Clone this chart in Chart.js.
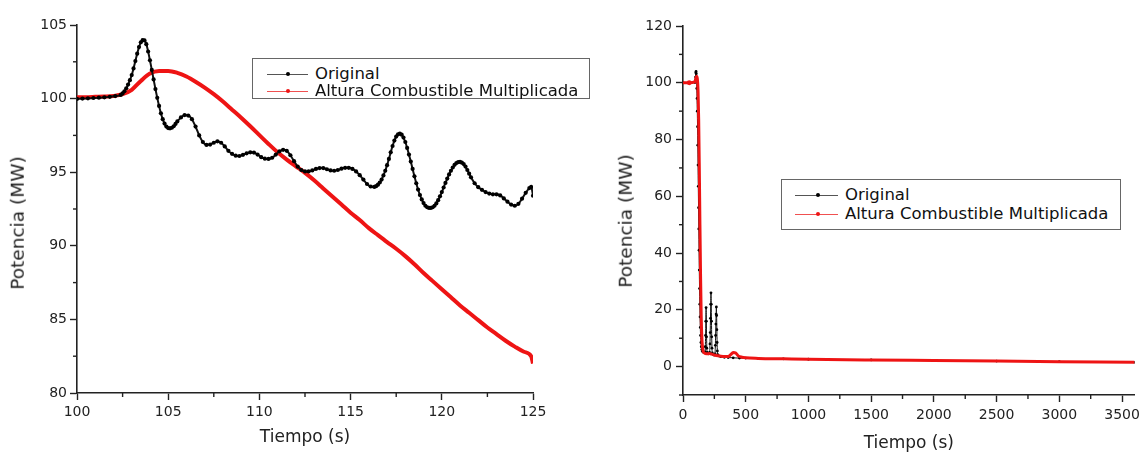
<!DOCTYPE html>
<html><head><meta charset="utf-8">
<script src="https://cdn.jsdelivr.net/npm/chart.js@4.4.1/dist/chart.umd.min.js"></script>
<style>
html,body{margin:0;padding:0;background:#fff;width:1145px;height:455px;overflow:hidden;font-family:"DejaVu Sans",sans-serif;}
canvas{position:absolute;top:0;}
#cL{left:0;}
#cR{left:600px;}
.legend{position:absolute;border:1px solid #666;background:#fff;box-sizing:border-box;font-size:16.5px;color:#111;}
.row{position:relative;}
.sym{position:absolute;top:50%;height:0;border-top:1px solid;}
.dot{position:absolute;width:4px;height:4px;border-radius:50%;top:-2.5px;}
.txt{position:absolute;top:50%;transform:translateY(-50%);white-space:nowrap;line-height:1;}
.ytitle{position:absolute;white-space:nowrap;font-size:18.5px;color:#222;line-height:1;transform:translate(-50%,-50%) rotate(-90deg);}
</style></head><body>
<canvas id="cL" width="600" height="455"></canvas>
<canvas id="cR" width="545" height="455"></canvas>
<div class="legend" id="legL"></div>
<div class="legend" id="legR"></div>
<div class="ytitle" id="ytL" style="left:18px;top:223px"></div>
<div class="ytitle" id="ytR" style="left:626px;top:221px"></div>
<script>
// ---------- DATA ----------
const seriesNames = ["Original", "Altura Combustible Multiplicada"];
const xTitle = "Tiempo (s)";
const yTitle = "Potencia (MW)";

// Left panel (zoom 100-125 s)
const xTicksLeft = [100, 105, 110, 115, 120, 125];
const yTicksLeft = [80, 85, 90, 95, 100, 105];

const origTimeL = [
 100,100.3,100.6,100.9,101.2,101.5,101.8,102.1,102.4,
 102.5,102.6,102.7,102.8,102.9,103.0,103.1,103.2,103.3,103.4,103.5,103.6,103.7,103.8,103.9,104.0,104.1,104.2,104.3,104.4,104.5,104.6,104.7,104.8,104.9,105.0,105.1,105.2,105.3,105.4,105.5,
 105.7,105.9,106.1,106.3,106.5,106.7,106.9,107.1,107.3,107.5,107.7,107.9,108.1,108.3,108.5,108.7,108.9,109.1,109.3,109.5,109.7,109.9,110.1,110.3,110.5,110.7,110.9,111.1,111.3,111.5,111.7,111.9,112.1,112.3,112.5,112.7,112.9,113.1,113.3,113.5,113.7,113.9,114.1,114.3,114.5,114.7,114.9,115.1,115.3,115.5,115.7,115.9,116.1,116.3,
 116.4,116.5,116.6,116.7,116.8,116.9,117.0,117.1,117.2,117.3,117.4,117.5,117.6,117.7,117.8,117.9,118.0,118.1,118.2,118.3,118.4,118.5,118.6,118.7,118.8,118.9,119.0,119.1,119.2,119.3,119.4,119.5,119.6,119.7,119.8,119.9,120.0,120.1,120.2,120.3,120.4,120.5,120.6,120.7,120.8,120.9,121.0,121.1,121.2,121.3,121.4,121.5,121.6,
 121.8,122.0,122.2,122.4,122.6,122.8,123.0,123.2,123.4,123.6,123.8,124.0,124.2,124.4,124.6,124.8,124.9,125.0
];
const origPowerL = [
 99.98,100.0,100.02,100.04,100.06,100.09,100.12,100.17,100.25,
 100.35,100.5,100.7,100.95,101.25,101.6,102.05,102.55,103.05,103.5,103.82,103.97,103.95,103.7,103.2,102.6,101.95,101.3,100.65,100.05,99.5,99.0,98.6,98.3,98.1,98.0,97.98,98.02,98.12,98.28,98.45,
 98.72,98.88,98.85,98.6,98.1,97.5,97.05,96.85,96.88,97.0,97.1,97.0,96.75,96.45,96.25,96.12,96.1,96.18,96.28,96.35,96.33,96.2,96.02,95.92,95.9,95.98,96.2,96.42,96.52,96.45,96.15,95.75,95.38,95.15,95.05,95.05,95.12,95.22,95.28,95.28,95.2,95.12,95.1,95.15,95.24,95.3,95.3,95.22,95.05,94.8,94.5,94.2,94.03,94.0,
 94.05,94.15,94.3,94.5,94.78,95.1,95.48,95.9,96.35,96.78,97.15,97.42,97.57,97.62,97.55,97.35,97.05,96.65,96.2,95.72,95.22,94.72,94.25,93.82,93.45,93.15,92.9,92.72,92.62,92.57,92.57,92.62,92.72,92.88,93.1,93.36,93.65,93.96,94.27,94.57,94.85,95.1,95.32,95.5,95.62,95.69,95.7,95.65,95.55,95.38,95.15,94.9,94.65,
 94.25,93.98,93.8,93.65,93.55,93.5,93.5,93.42,93.22,93.0,92.8,92.72,92.85,93.2,93.6,93.92,94.0,93.4
];

const alturaTimeL = [100,100.5,101,101.5,102,102.5,103,103.5,104,104.5,105,105.5,106,106.5,107,107.5,108,108.5,109,109.5,110,110.5,111,111.5,112,112.5,113,113.5,114,114.5,115,115.5,116,116.5,117,117.5,118,118.5,119,119.5,120,120.5,121,121.5,122,122.5,123,123.5,124,124.5,124.9,125];
const alturaPowerL = [100.1,100.1,100.12,100.14,100.18,100.3,100.6,101.2,101.7,101.88,101.88,101.75,101.5,101.15,100.75,100.3,99.8,99.25,98.7,98.12,97.52,96.92,96.35,95.85,95.4,94.95,94.45,93.9,93.35,92.8,92.25,91.75,91.2,90.72,90.25,89.8,89.3,88.75,88.15,87.6,87.05,86.5,85.95,85.45,84.95,84.45,84.0,83.55,83.15,82.8,82.5,82.0];

// Right panel (0-3600 s)
const xTicksRight = [0, 500, 1000, 1500, 2000, 2500, 3000, 3500];
const yTicksRight = [0, 20, 40, 60, 80, 100, 120];

const origTimeR = [0,50,95,98,100,102,104,106,108,110,112,114,116,118,120,122,124,126,128,130,132,134,136,138,140,143,146,150,155,162,170,176,178,180,182,184,186,188,190,193,198,205,212,215,217,219,221,223,225,227,229,231,234,240,248,255,258,260,262,264,266,268,270,272,274,277,285,300,330,360,400,450,500,600,800,1000,1500,2000,2500,3000,3600];
const origPowerR = [100,100,100.1,100.8,102,103.5,104,103.2,101,98,94.5,90,84.5,78,71,63.5,56,48.5,41,34,27.5,22,17.5,13.8,11,8.5,7,6,5.4,5.1,4.9,5.2,7,11,16,20.8,16,10.5,6.5,5.0,4.6,4.5,5,8,12,17,22,26,22,16,10.5,6.5,4.8,4.3,4.1,4.5,7.5,11,15,18.5,21,18,13,8.5,5.5,4.2,3.8,3.5,3.3,3.2,3.1,3.0,3.0,2.9,2.75,2.6,2.35,2.15,1.95,1.75,1.5];

const alturaTimeR = [0,50,95,102,108,114,120,125,130,135,140,145,150,155,160,170,190,210,230,250,280,320,360,380,400,420,440,470,500,600,800,1000,1500,2000,2500,3000,3600];
const alturaPowerR = [100,100,100.3,101.5,102.3,101.5,97,87,70,50,32,18,10.5,7,5.5,4.8,4.5,4.6,4.4,4.1,3.8,3.6,3.6,4.2,5.0,4.8,3.8,3.3,3.1,2.9,2.75,2.6,2.35,2.15,1.95,1.75,1.5];

// ---------- CHARTS ----------
Chart.defaults.font.family = '"DejaVu Sans", sans-serif';
Chart.defaults.color = '#222';

const AXIS = '#222';
const RED = '#ee1414';

const toXY = (ts, vs) => ts.map((t, i) => ({x: t, y: vs[i]}));

const minorTicks = {
  id: 'minorTicks',
  afterDraw(chart) {
    const ctx = chart.ctx;
    ctx.save();
    ctx.strokeStyle = AXIS;
    ctx.lineWidth = 1.4;
    for (const id of ['x', 'y']) {
      const s = chart.scales[id];
      const vals = s.ticks.map(t => t.value);
      const step = vals[1] - vals[0];
      for (let v = vals[0] - step / 2; v <= s.max + 1e-9; v += step) {
        if (v < s.min - 1e-9) continue;
        const p = s.getPixelForValue(v);
        ctx.beginPath();
        if (id === 'x') { ctx.moveTo(p, s.top); ctx.lineTo(p, s.top + 4); }
        else { ctx.moveTo(s.right, p); ctx.lineTo(s.right - 4, p); }
        ctx.stroke();
      }
    }
    ctx.restore();
  }
};

function axis(o) {
  return {
    type: 'linear', min: o.min, max: o.max, bounds: 'data',
    border: {display: true, color: AXIS, width: 1.6},
    grid: {drawOnChartArea: false, drawTicks: true, tickLength: 7, tickColor: AXIS, tickWidth: 1.4},
    ticks: {font: {size: 14}, color: AXIS, padding: o.pad, maxRotation: 0, autoSkip: false,
            callback: v => String(v)},
    afterBuildTicks: s => { s.ticks = o.ticks.map(v => ({value: v})); },
    afterFit: s => { if (o.w) s.width = o.w; if (o.h) s.height = o.h; },
    title: {display: !!o.title, text: o.title || '', font: {size: o.tsize || 17}, color: AXIS, padding: o.tpad}
  };
}

function makeChart(id, o) {
  return new Chart(document.getElementById(id), {
    type: 'line',
    data: {datasets: o.datasets},
    options: {
      responsive: false, animation: false, devicePixelRatio: 1,
      layout: {padding: o.padding},
      plugins: {legend: {display: false}, tooltip: {enabled: false}},
      events: [],
      scales: {x: o.x, y: o.y}
    },
    plugins: [minorTicks]
  });
}

makeChart('cL', {
  padding: {top: 25, right: 67, bottom: 0, left: 0},
  datasets: [
    {label: seriesNames[0], data: toXY(origTimeL, origPowerL), order: 0,
     borderColor: '#111', borderWidth: 2, pointRadius: 2.1, pointBorderWidth: 0,
     pointBackgroundColor: '#000', cubicInterpolationMode: 'monotone'},
    {label: seriesNames[1], data: toXY(alturaTimeL, alturaPowerL), order: 1,
     borderColor: RED, borderWidth: 4, pointRadius: 0, cubicInterpolationMode: 'monotone'}
  ],
  x: axis({min: 100, max: 125, ticks: xTicksLeft, pad: 4, h: 62, title: xTitle, tsize: 17, tpad: {top: 4, bottom: 7}}),
  y: axis({min: 80, max: 105, ticks: yTicksLeft, pad: 3, w: 77})
});

makeChart('cR', {
  padding: {top: 26, right: 5, bottom: 0, left: 0},
  datasets: [
    {label: seriesNames[0], data: toXY(origTimeR, origPowerR), order: 1,
     borderColor: '#111', borderWidth: 1, pointRadius: 1.4, pointBorderWidth: 0,
     pointBackgroundColor: '#000', cubicInterpolationMode: 'monotone'},
    {label: seriesNames[1], data: toXY(alturaTimeR, alturaPowerR), order: 0,
     borderColor: RED, borderWidth: 3, pointBorderWidth: 0, pointBackgroundColor: RED,
     pointRadius: c => (alturaTimeR[c.dataIndex] === 50 ? 2.4 : 0), cubicInterpolationMode: 'monotone'}
  ],
  x: axis({min: 0, max: 3600, ticks: xTicksRight, pad: 5, h: 60, title: xTitle, tsize: 17, tpad: {top: 4, bottom: 1}}),
  y: axis({min: -10, max: 120, ticks: yTicksRight, pad: 4, w: 83})
});

document.getElementById('ytL').textContent = yTitle;
document.getElementById('ytR').textContent = yTitle;

// ---------- LEGENDS (HTML) ----------
function legend(el, box, rowH, sym) {
  Object.assign(el.style, {left: box.l + 'px', top: box.t + 'px', width: box.w + 'px', height: box.h + 'px', paddingTop: box.pt + 'px'});
  const colors = [['#555', '#000'], ['#f05050', RED]];
  seriesNames.forEach((name, i) => {
    const r = document.createElement('div');
    r.className = 'row';
    r.style.height = rowH + 'px';
    r.innerHTML = '<div class="sym" style="left:' + sym.a + 'px;width:' + (sym.b - sym.a) + 'px;border-color:' + colors[i][0] + '">' +
      '<div class="dot" style="left:' + (sym.d - sym.a - 2) + 'px;background:' + colors[i][1] + '"></div></div>' +
      '<div class="txt" style="left:' + sym.t + 'px"></div>';
    r.querySelector('.txt').textContent = name;
    el.appendChild(r);
  });
}
legend(document.getElementById('legL'), {l: 252, t: 58, w: 338, h: 41, pt: 6}, 17, {a: 14, b: 55, d: 35, t: 62});
legend(document.getElementById('legR'), {l: 781, t: 179, w: 340, h: 51, pt: 5}, 19, {a: 13, b: 56, d: 36, t: 63});
</script>
</body></html>
